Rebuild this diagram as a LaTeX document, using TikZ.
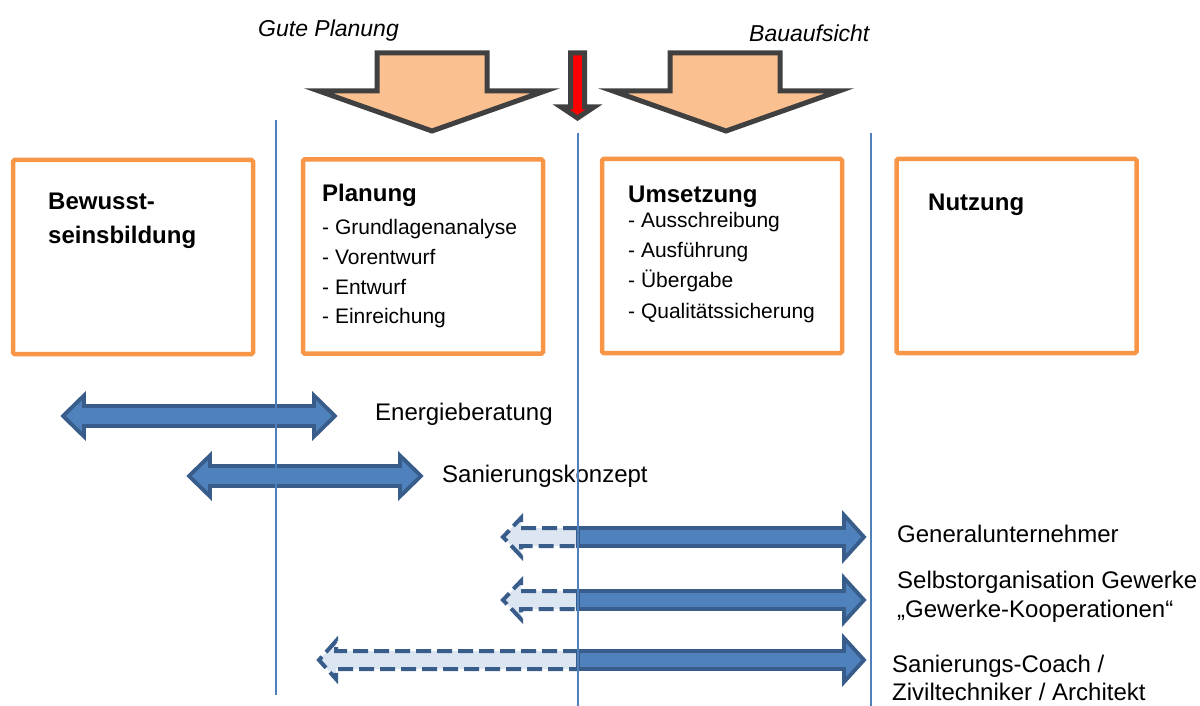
\documentclass[tikz,border=0pt]{standalone}
\usepackage{fontspec}
\setmainfont{Liberation Sans}
\definecolor{boxorange}{HTML}{F79646}
\definecolor{peach}{HTML}{FAC090}
\definecolor{steel}{HTML}{4F81BD}
\definecolor{steeldark}{HTML}{385D8A}
\definecolor{steellight}{HTML}{DCE6F2}
\definecolor{arrowgray}{HTML}{404040}
\begin{document}
\begin{tikzpicture}[x=1pt,y=-1pt,
	phase/.style={draw=boxorange,line width=4.5pt,rounded corners=1.5pt,
	minimum width=240pt,minimum height=194pt,inner sep=0},
	head/.style={font=\fontsize{24}{29}\selectfont\bfseries,inner sep=0,anchor=base west},
	item/.style={font=\fontsize{21}{25}\selectfont,inner sep=0,anchor=base west},
	lbl/.style={font=\fontsize{24}{29}\selectfont,inner sep=0,anchor=base west},
	bigarrow/.style={fill=peach,draw=arrowgray,line width=5pt},
	redarrow/.style={fill=red,draw=arrowgray,line width=5pt},
	bluearrow/.style={fill=steel,draw=steeldark,line width=3.8pt},
	dasharrow/.style={fill=steellight,draw=steeldark,line width=4pt,dash pattern=on 15pt off 6pt},
	divider/.style={draw=steel,line width=1.5pt}]
\useasboundingbox (0,0) rectangle (1200,706);
\node[lbl,font=\fontsize{23}{28}\selectfont\itshape] (gute) at (258,37) {Gute Planung};
\node[lbl,font=\fontsize{23}{28}\selectfont\itshape] (aufsicht) at (749,42) {Bauaufsicht};
\draw[bigarrow] (377,53) -- (487,53) -- (487,91) -- (545,91) -- (432,131) -- (319,91) -- (377,91) -- cycle;
\draw[bigarrow] (670,53) -- (780,53) -- (780,91) -- (839,91) -- (726,131) -- (613,91) -- (670,91) -- cycle;
\draw[redarrow] (570.5,53) -- (584.5,53) -- (584.5,107) -- (594,107) -- (577.5,118) -- (561,107) -- (570.5,107) -- cycle;
\node[phase] (bewusst) at (133,257) {};
\node[phase] (planung) at (423,256.5) {};
\node[phase] (umsetzung) at (722,256) {};
\node[phase] (nutzung) at (1016.5,256) {};
\node[head] (bewusst1) at (48,209) {Bewusst-};
\node[head] (bewusst2) at (48,243) {seinsbildung};
\node[head] (planungT) at (322,201) {Planung};
\foreach \t/\y [count=\i] in {Grundlagenanalyse/234,Vorentwurf/264,Entwurf/294,Einreichung/323.5}
	\node[item] (plan\i) at (322,\y) {- \t};
\node[head] (umsetzungT) at (628,202) {Umsetzung};
\foreach \t/\y [count=\i] in {Ausschreibung/227,Ausführung/257.3,Übergabe/287.6,Qualitätssicherung/318}
	\node[item] (ums\i) at (628,\y) {- \t};
\node[head] (nutzungT) at (928,210) {Nutzung};
\draw[bluearrow] (63,416) -- (84,395.5) -- (84,406) -- (314,406) -- (314,395.5) -- (335,416)
	-- (314,436.5) -- (314,426) -- (84,426) -- (84,436.5) -- cycle;
\draw[bluearrow] (189,476) -- (210,455.5) -- (210,466) -- (400,466) -- (400,455.5) -- (421,476)
	-- (400,496.5) -- (400,486) -- (210,486) -- (210,496.5) -- cycle;
\node[lbl] (energie) at (375,420) {Energieberatung};
\node[lbl] (konzept) at (442,482) {Sanierungskonzept};
\foreach \y/\l/\t in {537/521/503,600/521/503,660/336/319}{
	\draw[dasharrow] (578,\y-9) -- (\l,\y-9) -- (\l,\y-19) -- (\t,\y) -- (\l,\y+19) -- (\l,\y+9) -- (578,\y+9) -- cycle;
	\draw[bluearrow] (578,\y-9) -- (844,\y-9) -- (844,\y-22) -- (864,\y) -- (844,\y+22) -- (844,\y+9) -- (578,\y+9) -- cycle;
}
\node[lbl] (general) at (897,542) {Generalunternehmer};
\node[lbl] (selbst) at (897,588) {Selbstorganisation Gewerke};
\node[lbl] (koop) at (897,617) {„Gewerke-Kooperationen“};
\node[lbl] (coach) at (892,672) {Sanierungs-Coach /};
\node[lbl] (zivil) at (892,700) {Ziviltechniker / Architekt};
\draw[divider] (276,120) -- (276,695);
\draw[divider] (578,133) -- (578,706);
\draw[divider] (871,133) -- (871,706);
\end{tikzpicture}
\end{document}
